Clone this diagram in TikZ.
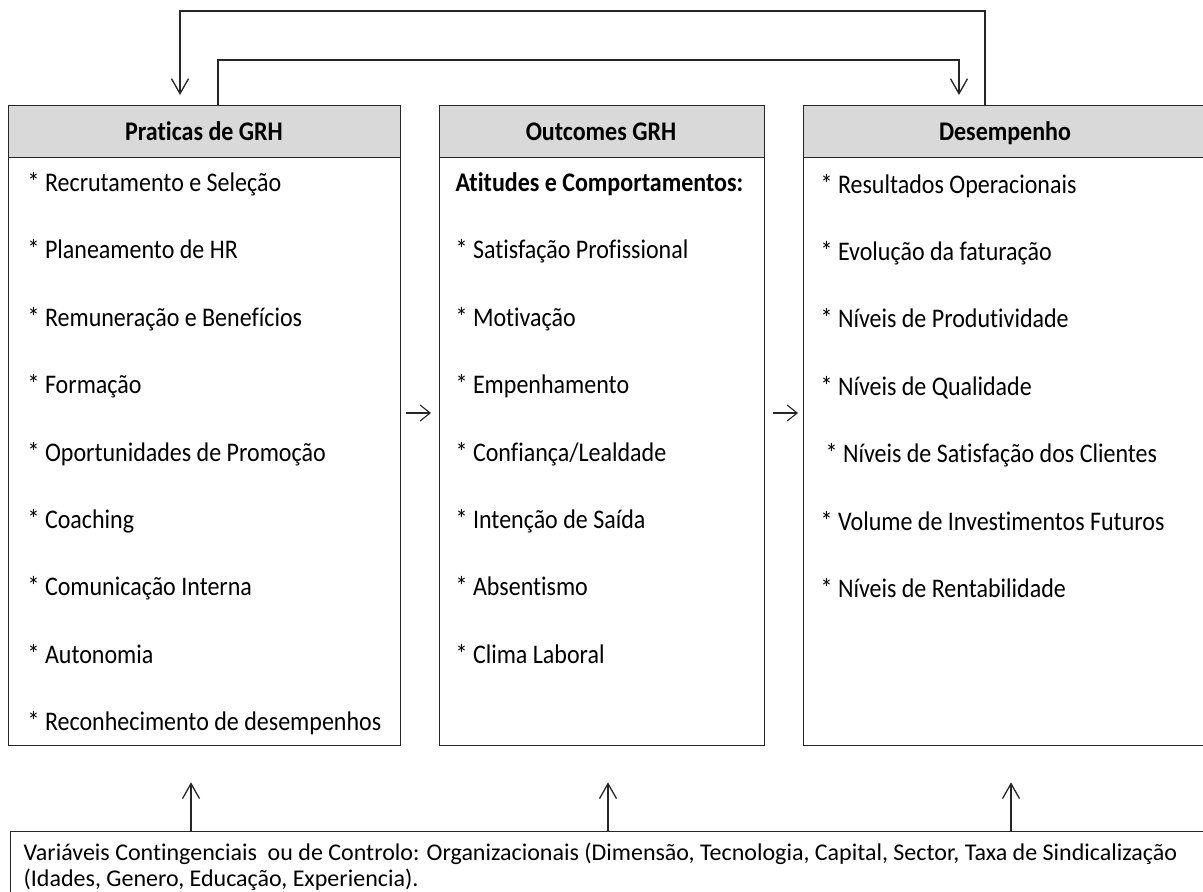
\documentclass[tikz,border=0pt]{standalone}
\usepackage{fontspec}
\usepackage{graphicx}
\setmainfont{Carlito}[Ligatures={NoCommon}]
\usetikzlibrary{arrows.meta,calc}
\newcommand\vstretch[1]{\scalebox{1}[1.12]{#1}}
\begin{document}
\begin{tikzpicture}[x=1pt,y=-1pt,
  line width=1.3pt,
  boxframe/.style={draw=black!85, rectangle, inner sep=0pt, anchor=north west},
  headband/.style={draw=black!85, fill=black!15, rectangle, inner sep=0pt, anchor=north west, font=\bfseries},
  item/.style={anchor=base west, inner sep=0pt},
  arr/.style={draw=black!85, -{Straight Barb[length=15pt,width=17pt,line width=1.3pt]}},
  smallarr/.style={draw=black!85, line width=1.1pt, -{Straight Barb[length=10pt,width=16pt,line width=1.1pt]}}
]
\useasboundingbox (0,0) rectangle (1203,892);
\fontsize{24}{28}\selectfont

% boxes
\node[boxframe, minimum width=392pt, minimum height=640pt] (b1) at (8,105) {};
\node[boxframe, minimum width=325pt, minimum height=640pt] (b2) at (439,105) {};
\node[boxframe, minimum width=410pt, minimum height=640pt] (b3) at (803,105) {};
\node[headband, minimum width=392pt, minimum height=52pt] (h1) at (8,105) {};
\node[headband, minimum width=325pt, minimum height=52pt] (h2) at (439,105) {};
\node[headband, minimum width=410pt, minimum height=52pt] (h3) at (803,105) {};
\node[font=\bfseries, anchor=base] (t1) at (204,140) {\vstretch{Praticas de GRH}};
\node[font=\bfseries, anchor=base] (t2) at (601,140) {\vstretch{Outcomes GRH}};
\node[font=\bfseries, anchor=base] (t3) at (1005,140) {\vstretch{Desempenho}};

% items column 1
\foreach \txt [count=\i from 0] in {{* Recrutamento e Seleção},{* Planeamento de HR},{* Remuneração e Benefícios},{* Formação},{* Oportunidades de Promoção},{* Coaching},{* Comunicação Interna},{* Autonomia},{* Reconhecimento de desempenhos}}
  \node[item] (pa\i) at (27,{191.5+67.4*\i}) {\vstretch{\txt}};

% items column 2
\node[item, font=\bfseries] (oa) at (455,191.5) {\vstretch{Atitudes e Comportamentos:}};
\foreach \txt [count=\i from 1] in {{* Satisfação Profissional},{* Motivação},{* Empenhamento},{* Confiança/Lealdade},{* Intenção de Saída},{* Absentismo},{* Clima Laboral}}
  \node[item] (ob\i) at (455,{191.5+67.4*\i}) {\vstretch{\txt}};

% items column 3
\foreach \txt/\xx [count=\i from 0] in {{* Resultados Operacionais}/820,{* Evolução da faturação}/820,{* Níveis de Produtividade}/820,{* Níveis de Qualidade}/820,{* Níveis de Satisfação dos Clientes}/825,{* Volume de Investimentos Futuros}/820,{* Níveis de Rentabilidade}/820}
  \node[item] (dc\i) at (\xx,{193+67.4*\i}) {\vstretch{\txt}};

% bottom box
\node[boxframe, minimum width=1205pt, minimum height=80pt] (bot) at (10,831) {};
\node[item] (bl1) at (23,860) {Variáveis Contingenciais\ \ ou de Controlo: Organizacionais (Dimensão, Tecnologia, Capital, Sector, Taxa de Sindicalização};
\node[item] (bl2) at (23,886) {(Idades, Genero, Educação, Experiencia).};

% feedback connectors
\coordinate (p1) at (218,60);
\coordinate (p2) at (959,60);
\coordinate (q1) at (985,11);
\coordinate (q2) at (180,11);
\draw[arr, shorten >=10pt] (h1.north -| p1) -- (p1) -- (p2) -- (h3.north -| p2);
\draw[arr, shorten >=10pt] (h3.north -| q1) -- (q1) -- (q2) -- (h1.north -| q2);

% horizontal arrows between boxes
\coordinate (ay) at (0,413);
\draw[smallarr, shorten <=5pt, shorten >=8pt] (b1.east |- ay) -- (b2.west |- ay);
\draw[smallarr, shorten <=8pt, shorten >=5pt] (b2.east |- ay) -- (b3.west |- ay);

% vertical arrows from bottom box
\coordinate (c1) at (191,0);
\coordinate (c2) at (608,0);
\coordinate (c3) at (1011,0);
\draw[arr, shorten >=36pt] (bot.north -| c1) -- (b1.south -| c1);
\draw[arr, shorten >=36pt] (bot.north -| c2) -- (b2.south -| c2);
\draw[arr, shorten >=36pt] (bot.north -| c3) -- (b3.south -| c3);
\end{tikzpicture}
\end{document}
